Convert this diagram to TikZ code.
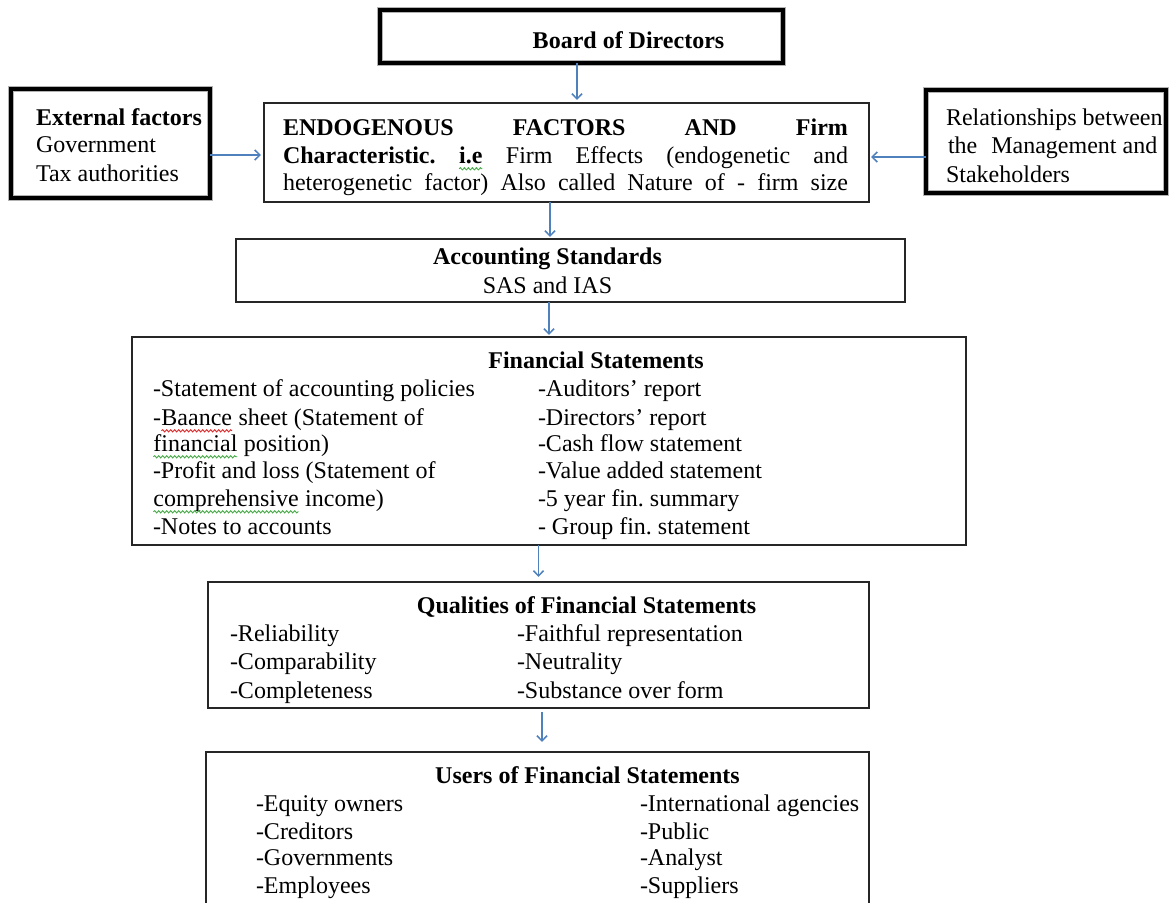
\documentclass[tikz,border=0pt]{standalone}
\usepackage{fontspec}
\setmainfont{Liberation Serif}
\usetikzlibrary{arrows.meta,decorations.pathmorphing}
\definecolor{arrowblue}{RGB}{79,129,189}
\definecolor{squiggreen}{RGB}{70,170,70}
\definecolor{squigred}{RGB}{225,40,40}
\newcommand\squig[3]{\tikz[baseline=(#2.base)]{\node[inner sep=0pt,outer sep=0pt] (#2) {#3};
  \draw[#1,line width=0.45pt,decorate,decoration={snake,amplitude=0.55pt,segment length=2pt}] ([yshift=-2.6pt]#2.base west) -- ([yshift=-2.6pt]#2.base east);}}
\begin{document}
\frenchspacing
\begin{tikzpicture}[x=0.5pt,y=-0.5pt,
  txt/.style={inner sep=0pt,outer sep=0pt,font=\fontsize{12}{13.8}\selectfont,text height=9.8pt,text depth=1.2pt},
  txtb/.style={txt,font=\fontsize{12}{13.8}\selectfont\bfseries},
  thickbox/.style={draw=black,line width=2pt,inner sep=0pt,outer sep=0pt,preaction={draw=black!30,line width=2.9pt}},
  thinbox/.style={draw=black!85,line width=0.75pt,inner sep=0pt,outer sep=0pt},
  flow/.style={draw=arrowblue,line width=0.75pt,-{Straight Barb[length=2.6pt,width=5pt]}}]
\useasboundingbox (0,0) rectangle (1169,903);
\clip (0,0) rectangle (1169,903);

% boxes
\node[thickbox,minimum width=201.5pt,minimum height=26.5pt] (board) at (581.5,36.5) {};
\node[thinbox,minimum width=302.5pt,minimum height=49.5pt] (endo) at (566.5,152.5) {};
\node[thickbox,minimum width=99.5pt,minimum height=54.5pt] (ext) at (110.5,143.5) {};
\node[thickbox,minimum width=120pt,minimum height=51.5pt] (rel) at (1046,141.5) {};
\node[thinbox,minimum width=334.5pt,minimum height=31.5pt] (acc) at (570.5,270.5) {};
\node[thinbox,minimum width=417pt,minimum height=104pt] (fs) at (549,441) {};
\node[thinbox,minimum width=330.5pt,minimum height=63pt] (q) at (538.5,645) {};
\node[thinbox,minimum width=331.5pt,minimum height=89pt] (u) at (537.5,841) {};

% connectors
\draw[flow,shorten >=1.5pt] ([xshift=-2.25pt]board.south) -- ([xshift=-2.25pt]board.south |- endo.north);
\draw[flow,shorten >=1pt] ([xshift=-8.25pt]endo.south) -- ([xshift=-8.25pt]endo.south |- acc.north);
\draw[flow,shorten >=1pt] (fs.north |- acc.south) -- (fs.north);
\draw[flow,shorten >=2.5pt] (q.north |- fs.south) -- (q.north);
\draw[flow,shorten <=2pt,shorten >=5pt] ([xshift=1.75pt]q.south) -- ([xshift=1.75pt]q.south |- u.north);
\draw[flow,shorten >=1.5pt] ([yshift=-5.75pt]ext.east) -- ([yshift=-5.75pt]ext.east -| endo.west);
\draw[flow,shorten >=1pt] ([yshift=-7.75pt]rel.west) -- ([yshift=-7.75pt]rel.west -| endo.east);

% Board
\node[txtb] (boardt) at (628.5,40) {Board of Directors};

% External factors
\node[txtb,anchor=west] (ext1) at (36,117) {External factors};
\node[txt,anchor=west] (ext2) at (36,144) {Government};
\node[txt,anchor=west] (ext3) at (36,173) {Tax authorities};

% Endogenous
\node[txt,anchor=west] (en1) at (283,127) {\makebox[282.5pt][s]{\bfseries ENDOGENOUS FACTORS AND Firm}};
\node[txt,anchor=west] (en2) at (283,155) {\makebox[282.5pt][s]{\frenchspacing\textbf{Characteristic.} \squig{squiggreen}{sqie}{\textbf{i.e}} Firm Effects (endogenetic and}};
\node[txt,anchor=west] (en3) at (283,182) {\makebox[282.5pt][s]{heterogenetic factor) Also called Nature of - firm size}};

% Relationships
\node[txt,anchor=west] (rel1) at (946,117) {Relationships between};
\node[txt,anchor=west] (rel2) at (948,145) {the\hspace{7pt}Management and};
\node[txt,anchor=west] (rel3) at (946,174) {Stakeholders};

% Accounting standards
\node[txtb] (acct) at (547.5,256) {Accounting Standards};
\node[txt] (accs) at (547.5,285) {SAS and IAS};

% Financial statements
\node[txtb] (fst) at (596,360) {Financial Statements};
\node[txt,anchor=west] (fsl1) at (153,388) {-Statement of accounting policies};
\node[txt,anchor=west] (fsl2) at (153,417) {-\squig{squigred}{sqba}{Baance} sheet (Statement of};
\node[txt,anchor=west] (fsl3) at (153,443) {\squig{squiggreen}{sqfi}{financial} position)};
\node[txt,anchor=west] (fsl4) at (153,470) {-Profit and loss (Statement of};
\node[txt,anchor=west] (fsl5) at (153,498) {\squig{squiggreen}{sqco}{comprehensive} income)};
\node[txt,anchor=west] (fsl6) at (153,526) {-Notes to accounts};
\node[txt,anchor=west] (fsr1) at (538,388) {-Auditors’ report};
\node[txt,anchor=west] (fsr2) at (538,417) {-Directors’ report};
\node[txt,anchor=west] (fsr3) at (538,443) {-Cash flow statement};
\node[txt,anchor=west] (fsr4) at (538,470) {-Value added statement};
\node[txt,anchor=west] (fsr5) at (538,498) {-5 year fin. summary};
\node[txt,anchor=west] (fsr6) at (538,526) {- Group fin. statement};

% Qualities
\node[txtb] (qt) at (586.5,605) {Qualities of Financial Statements};
\node[txt,anchor=west] (ql1) at (230,633) {-Reliability};
\node[txt,anchor=west] (ql2) at (230,661) {-Comparability};
\node[txt,anchor=west] (ql3) at (230,690) {-Completeness};
\node[txt,anchor=west] (qr1) at (517,633) {-Faithful representation};
\node[txt,anchor=west] (qr2) at (517,661) {-Neutrality};
\node[txt,anchor=west] (qr3) at (517,690) {-Substance over form};

% Users
\node[txtb] (ut) at (587.5,775) {Users of Financial Statements};
\node[txt,anchor=west] (ul1) at (256,803) {-Equity owners};
\node[txt,anchor=west] (ul2) at (256,831) {-Creditors};
\node[txt,anchor=west] (ul3) at (256,857) {-Governments};
\node[txt,anchor=west] (ul4) at (256,885) {-Employees};
\node[txt,anchor=west] (ur1) at (640,803) {-International agencies};
\node[txt,anchor=west] (ur2) at (640,831) {-Public};
\node[txt,anchor=west] (ur3) at (640,857) {-Analyst};
\node[txt,anchor=west] (ur4) at (640,885) {-Suppliers};
\end{tikzpicture}
\end{document}
